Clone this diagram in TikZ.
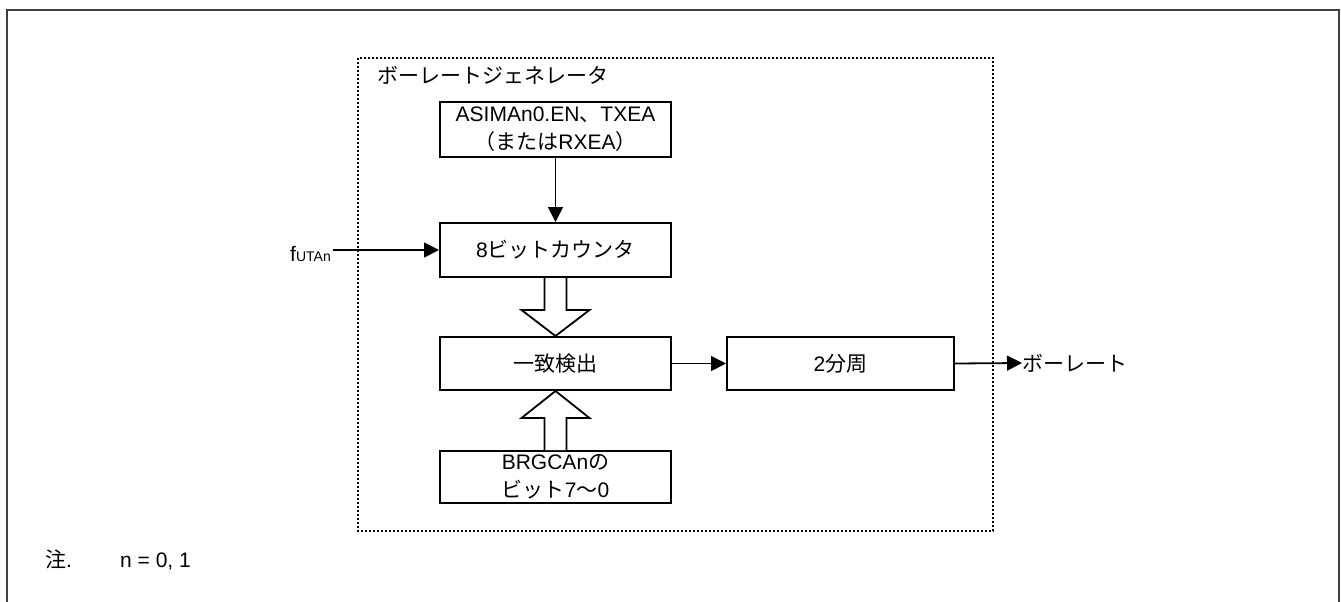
\documentclass[tikz,border=0pt]{standalone}
\usepackage{fontspec}
\setmainfont{Liberation Sans}
\newfontfamily\jpf{Noto Sans CJK JP}
\newcommand{\jp}[1]{{\jpf #1}}
\usetikzlibrary{arrows.meta,calc}
\begin{document}
\begin{tikzpicture}[x=1pt,y=-1pt,
  txt/.style={font=\fontsize{21}{28}\selectfont, inner sep=0pt},
  blk/.style={draw, line width=2pt, minimum width=231pt, minimum height=54pt,
    inner sep=0pt, align=center, font=\fontsize{21}{28}\selectfont},
  arr/.style={line width=1.8pt, -{Triangle[length=15pt,width=15pt]}},
  fat/.style={line width=1.8pt, line join=miter, fill=white},
  frame/.style={line width=2pt, draw=black!75},
  grp/.style={line width=2pt, dash pattern=on 2pt off 2pt}]
\useasboundingbox (0,0) rectangle (1341,602);
% outer frame
\draw[frame] (6.5,602) -- (6.5,10.5) -- (1339,10.5) -- (1339,602);
% dotted group
\draw[grp] (358,58) rectangle (993,531);
\node[txt, anchor=west] (title) at (377,75) {\jp{ボーレートジェネレータ}};
% blocks
\node[blk, minimum height=55pt] (asim) at (555.5,129.5) {ASIMAn0.EN\jp{、}TXEA\\\jp{（または}RXEA\jp{）}};
\node[blk] (cnt) at (555.5,250) {8\jp{ビットカウンタ}};
\node[blk, minimum height=53pt] (mat) at (555.5,363.5) {\jp{一致検出}};
\node[blk, minimum width=227pt, minimum height=53pt] (div) at (840.5,363.5) {2\jp{分周}};
\node[blk, minimum height=52pt] (brg) at (555.5,477) {BRGCAn\jp{の}\\\jp{ビット}7\jp{～}0};
% labels
\node[txt, anchor=base east] (fin) at (331,261.5) {f{\fontsize{14}{14}\selectfont UTAn}};
\node[txt, anchor=west] (out) at (1022,363) {\jp{ボーレート}};
\node[txt, anchor=base west] (note) at (45,567.5) {\jp{注}.};
\node[txt, anchor=base west] (nval) at (120,567.5) {n = 0, 1};
% thin arrows
\draw[arr] (asim.south) -- (cnt.north);
\draw[arr] ([xshift=2pt]fin.east |- cnt.west) -- (cnt.west);
\draw[arr] (mat.east) -- (div.west);
\draw[arr] (div.east) -- (out.west);
% fat arrows
\path (cnt.south) coordinate (a) (mat.north) coordinate (b);
\draw[fat] ($(a)+(-11,0)$) -- ($(b)+(-11,-26)$) -- ($(b)+(-34,-26)$) -- (b)
  -- ($(b)+(34,-26)$) -- ($(b)+(11,-26)$) -- ($(a)+(11,0)$);
\path (brg.north) coordinate (c) (mat.south) coordinate (d);
\draw[fat] ($(c)+(-11,0)$) -- ($(d)+(-11,27)$) -- ($(d)+(-34,27)$) -- (d)
  -- ($(d)+(34,27)$) -- ($(d)+(11,27)$) -- ($(c)+(11,0)$);
\end{tikzpicture}
\end{document}
